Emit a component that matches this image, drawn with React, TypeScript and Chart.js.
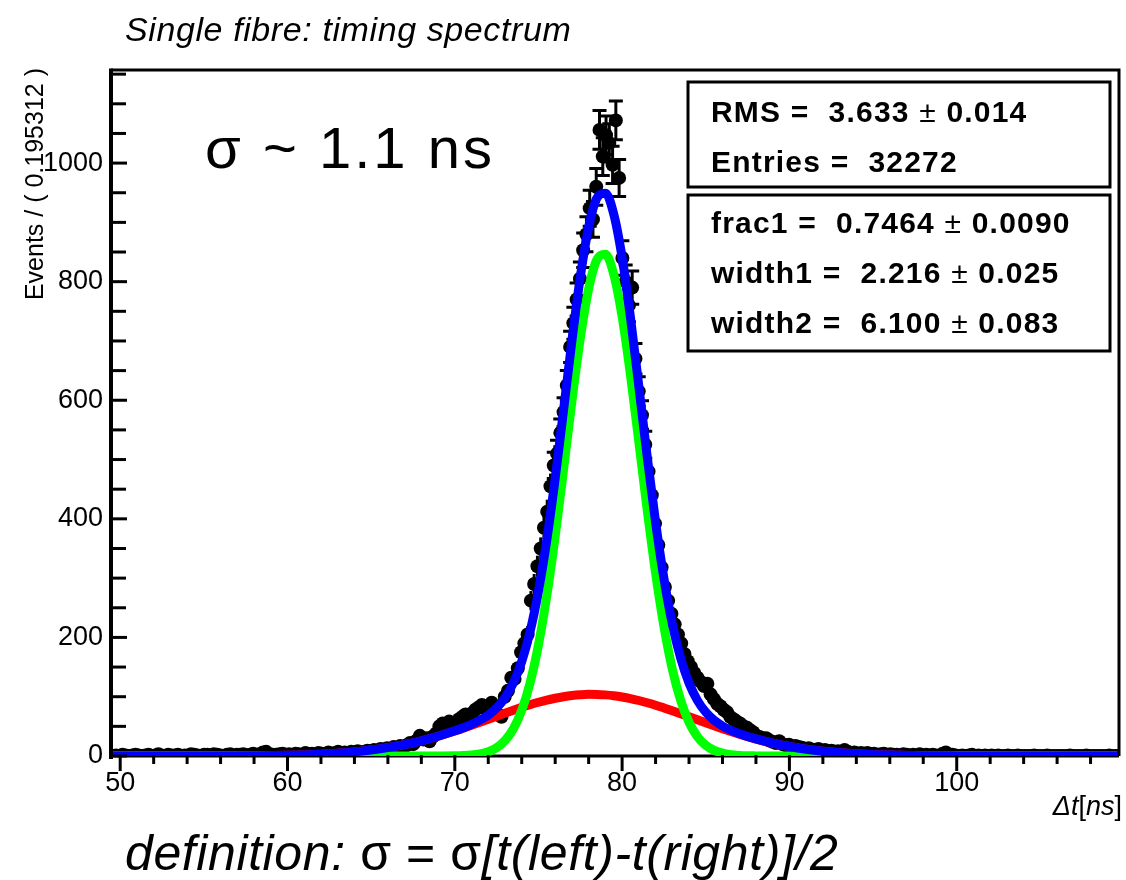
import React, { useEffect, useRef } from "react";
import { Chart, registerables } from "chart.js";

Chart.register(...registerables);

// ---------- data ----------
const BIN_START = 49.45;
const BIN_WIDTH = 0.1953125;
const X_MIN = 49.45;
const X_MAX = 109.7;
const Y_MIN = 0;
const Y_MAX = 1157;

const xMajorTicks = [50, 60, 70, 80, 90, 100];
const xMinorStep = 2;
const yMajorTicks = [0, 200, 400, 600, 800, 1000];
const yMinorStep = 50;

// histogram counts per bin (bin width 0.195312 ns, starting at BIN_START)
const counts = [
  0, 1, 0, 2, 1, 0, 1, 2, 1, 0,
  1, 2, 0, 1, 3, 1, 0, 2, 1, 1,
  2, 0, 1, 1, 3, 2, 1, 0, 2, 2,
  1, 3, 2, 1, 0, 2, 3, 1, 2, 2,
  3, 1, 2, 4, 2, 3, 6, 7, 3, 2,
  2, 3, 4, 2, 3, 1, 4, 3, 2, 5,
  3, 4, 2, 5, 4, 3, 6, 4, 5, 7,
  5, 6, 4, 7, 6, 8, 5, 7, 9, 8,
  10, 9, 12, 11, 13, 12, 15, 14, 17, 16,
  18, 22, 20, 26, 34, 28, 30, 25, 33, 38,
  50, 55, 44, 58, 52, 48, 62, 66, 70, 58,
  72, 78, 82, 86, 80, 76, 90, 84, 70, 66,
  100, 110, 132, 130, 148, 175, 190, 205, 262, 290,
  320, 350, 385, 412, 455, 490, 510, 545, 580, 625,
  690, 730, 770, 805, 853, 880, 924, 905, 960, 1056,
  1011, 1047, 1034, 997, 1072, 975, 840, 800, 760, 790,
  670, 615, 575, 525, 480, 440, 392, 356, 318, 285,
  262, 240, 222, 205, 190, 172, 160, 150, 140, 132,
  125, 118, 122, 104, 96, 88, 84, 78, 74, 66,
  62, 58, 55, 50, 48, 44, 40, 34, 32, 30,
  30, 26, 24, 22, 25, 20, 18, 19, 16, 17,
  15, 14, 12, 13, 11, 10, 12, 9, 10, 8,
  9, 7, 8, 6, 10, 7, 5, 6, 4, 5,
  4, 5, 3, 4, 2, 3, 4, 2, 3, 2,
  2, 1, 3, 2, 1, 2, 1, 3, 1, 2,
  1, 2, 1, 0, 4, 6, 1, 2, 1, 0,
  1, 0, 1, 2, 0, 1, 0, 1, 0, 1,
  0, 1, 0, 0, 1, 0, 0, 1, 0, 0,
  0, 0, 1, 0, 0, 0, 1, 0, 0, 0,
  0, 0, 0, 1, 0, 0, 0, 0, 1, 0,
  0, 0, 0, 0, 0, 1, 0, 0, 0,
];

// fit curves sampled at curveX
const curveX = [
  49, 50, 52, 54, 56, 58, 60, 62, 63, 64, 65, 66, 67, 68, 69,
  70, 70.5, 71, 71.5, 72, 72.5, 73, 73.5, 74, 74.5, 75, 75.5, 76, 76.5, 77, 77.5,
  78, 78.5, 79, 79.5, 80, 80.5, 81, 81.5, 82, 82.5, 83, 83.5, 84, 84.5, 85, 85.5,
  86, 86.5, 87, 87.5, 88,
  89, 90, 91, 92, 93, 94, 95, 96, 98, 100, 102, 104, 106, 108, 111,
];
const totalFit = [
  0, 0, 0.01, 0.04, 0.14, 0.43, 1.2, 3.1, 4.7, 6.9, 10.0, 14.1, 19.3, 25.7, 33.4,
  42.4, 47.6, 53.4, 60.4, 69.1, 81.2, 98.3, 123.3, 159.4, 210.0, 278.1, 364.7, 468.2, 583.3, 700.4, 807.6,
  891.9, 941.4, 949.2, 914.0, 840.8, 739.6, 623.3, 504.6, 394.5, 299.5, 223.1, 165.1, 123.1, 93.8, 73.9, 60.2,
  50.6, 43.4, 37.7, 32.9, 28.8,
  21.7, 16.0, 11.5, 8.1, 5.5, 3.6, 2.3, 1.5, 0.5, 0.2, 0.05, 0, 0, 0, 0,
];
const narrowFit = [
  0, 0, 0, 0, 0, 0, 0, 0, 0, 0, 0, 0, 0, 0, 0.04,
  0.3, 0.7, 1.6, 3.5, 7.1, 14.0, 26.0, 46.0, 77.3, 123.5, 187.5, 270.4, 370.8, 483.3, 598.4, 704.3,
  787.9, 837.5, 846.1, 812.3, 741.2, 642.7, 529.7, 414.8, 308.8, 218.4, 146.8, 93.8, 56.9, 32.8, 18.0, 9.4,
  4.7, 2.2, 1.0, 0.4, 0.2,
  0, 0, 0, 0, 0, 0, 0, 0, 0, 0, 0, 0, 0, 0, 0,
];
const wideFit = [
  0, 0, 0.01, 0.04, 0.14, 0.43, 1.2, 3.1, 4.7, 6.9, 10.0, 14.1, 19.3, 25.7, 33.4,
  42.1, 46.9, 51.8, 56.9, 62.0, 67.2, 72.3, 77.3, 82.1, 86.5, 90.6, 94.3, 97.4, 100.0, 102.0, 103.3,
  104.0, 103.9, 103.1, 101.7, 99.6, 96.9, 93.6, 89.8, 85.7, 81.1, 76.3, 71.3, 66.2, 61.0, 55.9, 50.8,
  45.9, 41.2, 36.7, 32.5, 28.6,
  21.7, 16.0, 11.5, 8.1, 5.5, 3.6, 2.3, 1.5, 0.5, 0.2, 0.05, 0, 0, 0, 0,
];

const titleText = "Single fibre: timing spectrum";
const yTitle = "Events / ( 0.195312 )";
const statsBox1 = [
  ["RMS =  3.633 ", "±", " 0.014"],
  ["Entries =  32272", "", ""],
];
const statsBox2 = [
  ["frac1 =  0.7464 ", "±", " 0.0090"],
  ["width1 =  2.216 ", "±", " 0.025"],
  ["width2 =  6.100 ", "±", " 0.083"],
];
const sigmaText = "σ ~ 1.1 ns";

// ---------- drawing helpers ----------
const FONT = '"Liberation Sans", Arial, Helvetica, sans-serif';

type Seg = { t: string; f: string };
function drawSegs(ctx: CanvasRenderingContext2D, x: number, y: number, segs: Seg[], spacing = "0px") {
  (ctx as any).letterSpacing = spacing;
  let cx = x;
  for (const s of segs) {
    if (!s.t) continue;
    ctx.font = s.f;
    ctx.fillText(s.t, cx, y);
    cx += ctx.measureText(s.t).width;
  }
  (ctx as any).letterSpacing = "0px";
  return cx;
}
function segsWidth(ctx: CanvasRenderingContext2D, segs: Seg[], spacing = "0px") {
  (ctx as any).letterSpacing = spacing;
  let w = 0;
  for (const s of segs) {
    ctx.font = s.f;
    w += ctx.measureText(s.t).width;
  }
  (ctx as any).letterSpacing = "0px";
  return w;
}

const rootPlugin = {
  id: "rootFrame",
  beforeDatasetsDraw(chart: any) {
    const { ctx, chartArea: a, scales } = chart;
    const y0 = scales.y.getPixelForValue(0);
    ctx.save();
    ctx.strokeStyle = "#000";
    ctx.lineWidth = 3;
    ctx.beginPath();
    ctx.moveTo(a.left, y0);
    ctx.lineTo(a.right, y0);
    ctx.stroke();
    ctx.restore();
  },
  beforeDatasetDraw(chart: any, args: any) {
    if (args.index !== 3) return;
    const { ctx, scales } = chart;
    const pts = chart.data.datasets[3].data as { x: number; y: number }[];
    ctx.save();
    ctx.strokeStyle = "#000";
    ctx.lineWidth = 3;
    for (const p of pts) {
      if (p.y <= 0) continue;
      const e = Math.sqrt(p.y);
      const px = scales.x.getPixelForValue(p.x);
      const yTop = scales.y.getPixelForValue(p.y + e);
      const yBot = scales.y.getPixelForValue(Math.max(0, p.y - e));
      const yc = scales.y.getPixelForValue(p.y);
      if (yc - yTop <= 8) continue;
      ctx.beginPath();
      ctx.moveTo(px, yTop);
      ctx.lineTo(px, yBot);
      ctx.stroke();
      if (yc - yTop > 13) {
        ctx.beginPath();
        ctx.moveTo(px - 7, yTop);
        ctx.lineTo(px + 7, yTop);
        ctx.moveTo(px - 7, yBot);
        ctx.lineTo(px + 7, yBot);
        ctx.stroke();
      }
    }
    ctx.restore();
  },
  afterDatasetsDraw(chart: any) {
    const { ctx, chartArea: a, scales } = chart;
    const xs = scales.x;
    const ys = scales.y;
    const y0 = ys.getPixelForValue(0);
    ctx.save();
    ctx.strokeStyle = "#000";
    ctx.lineCap = "butt";
    // frame: left, top, right
    ctx.lineWidth = 4;
    ctx.beginPath();
    ctx.moveTo(a.left, a.top - 1.5);
    ctx.lineTo(a.left, y0 + 3);
    ctx.stroke();
    ctx.lineWidth = 3;
    ctx.beginPath();
    ctx.moveTo(a.left, a.top);
    ctx.lineTo(a.right, a.top);
    ctx.lineTo(a.right, y0);
    ctx.stroke();
    // y ticks (inward)
    ctx.lineWidth = 3;
    for (let v = Y_MIN; v <= Y_MAX; v += yMinorStep) {
      const py = ys.getPixelForValue(v);
      ctx.beginPath();
      ctx.moveTo(a.left, py);
      ctx.lineTo(a.left + (yMajorTicks.includes(v) ? 16 : 15), py);
      ctx.stroke();
    }
    // x ticks (downward)
    for (let v = 50; v <= X_MAX; v += xMinorStep) {
      const px = xs.getPixelForValue(v);
      const major = xMajorTicks.includes(v);
      ctx.beginPath();
      ctx.moveTo(px, y0 - 1);
      ctx.lineTo(px, y0 + (major ? 15 : 8));
      ctx.stroke();
    }
    ctx.restore();
  },
  afterDraw(chart: any) {
    const { ctx } = chart;
    ctx.save();
    ctx.fillStyle = "#000";
    ctx.textBaseline = "alphabetic";
    ctx.textAlign = "left";

    // title
    drawSegs(ctx, 125, 41, [{ t: titleText, f: `italic 34px ${FONT}` }], "0.6px");

    // big sigma annotation
    drawSegs(ctx, 205, 168, [{ t: sigmaText, f: `58px ${FONT}` }], "3px");

    // y axis title
    ctx.save();
    ctx.translate(43, 68);
    ctx.rotate(-Math.PI / 2);
    ctx.textAlign = "right";
    ctx.font = `25px ${FONT}`;
    ctx.fillText(yTitle, 0, 0);
    ctx.restore();

    // x axis title
    const xt: Seg[] = [
      { t: "Δt", f: `italic 27px ${FONT}` },
      { t: "[", f: `27px ${FONT}` },
      { t: "ns", f: `italic 27px ${FONT}` },
      { t: "]", f: `27px ${FONT}` },
    ];
    const w = segsWidth(ctx, xt);
    drawSegs(ctx, 1122 - w, 815, xt);

    // bottom definition
    drawSegs(
      ctx,
      125,
      870,
      [
        { t: "definition: ", f: `italic 50px ${FONT}` },
        { t: "σ = σ", f: `50px ${FONT}` },
        { t: "[t(left)-t(right)]/2", f: `italic 50px ${FONT}` },
      ],
      "0.6px"
    );

    // stats boxes
    ctx.strokeStyle = "#000";
    ctx.lineWidth = 3;
    ctx.strokeRect(688, 82, 422, 105);
    ctx.strokeRect(688, 195, 422, 156);
    const bold = `bold 30px ${FONT}`;
    const reg = `30px ${FONT}`;
    const rows = [...statsBox1, ...statsBox2];
    const baselines = [122, 172, 233, 283, 333];
    rows.forEach((r, i) => {
      drawSegs(
        ctx,
        711,
        baselines[i],
        [
          { t: r[0], f: bold },
          { t: r[1], f: reg },
          { t: r[2], f: bold },
        ],
        "1.2px"
      );
    });
    ctx.restore();
  },
};

export default function App() {
  const ref = useRef<HTMLCanvasElement>(null);
  useEffect(() => {
    if (!ref.current) return;
    const tickFont = { family: FONT, size: 27 };
    const chart = new Chart(ref.current, {
      type: "scatter",
      data: {
        datasets: [
          {
            type: "line",
            label: "total fit",
            data: curveX.map((x, i) => ({ x, y: totalFit[i] })),
            borderColor: "#0000ff",
            borderWidth: 9,
            pointRadius: 0,
            cubicInterpolationMode: "monotone",
            fill: false,
          },
          {
            type: "line",
            label: "narrow gaussian",
            data: curveX.map((x, i) => ({ x, y: narrowFit[i] })),
            borderColor: "#00ff00",
            borderWidth: 9,
            pointRadius: 0,
            cubicInterpolationMode: "monotone",
            fill: false,
          },
          {
            type: "line",
            label: "wide gaussian",
            data: curveX.map((x, i) => ({ x, y: wideFit[i] })),
            borderColor: "#ff0000",
            borderWidth: 9,
            pointRadius: 0,
            cubicInterpolationMode: "monotone",
            fill: false,
          },
          {
            type: "scatter",
            label: "data",
            data: counts.map((n, i) => ({ x: BIN_START + (i + 0.5) * BIN_WIDTH, y: n })),
            pointRadius: 7,
            pointHoverRadius: 7,
            backgroundColor: "#000",
            borderWidth: 0,
          },
        ] as any,
      },
      options: {
        animation: false,
        responsive: false,
        events: [],
        layout: { padding: { left: 0, right: 5, top: 70, bottom: 0 } },
        plugins: {
          legend: { display: false },
          tooltip: { enabled: false },
          title: { display: false },
        },
        scales: {
          x: {
            type: "linear",
            min: X_MIN,
            max: X_MAX,
            grid: { display: false, drawTicks: false },
            border: { display: false },
            ticks: {
              stepSize: 10,
              includeBounds: false,
              autoSkip: false,
              maxRotation: 0,
              color: "#000",
              font: tickFont,
              padding: 11,
              callback: (v: any) => String(v),
            },
            afterFit: (s: any) => {
              s.height = 124;
            },
          },
          y: {
            type: "linear",
            min: Y_MIN,
            max: Y_MAX,
            grid: { display: false, drawTicks: false },
            border: { display: false },
            ticks: {
              stepSize: 200,
              includeBounds: false,
              autoSkip: false,
              color: "#000",
              font: tickFont,
              padding: 8,
              callback: (v: any) => String(v),
            },
            afterFit: (s: any) => {
              s.width = 111;
            },
          },
        },
      } as any,
      plugins: [rootPlugin as any],
    });
    return () => chart.destroy();
  }, []);
  return (
    <div style={{ position: "fixed", left: 0, top: 0, width: 1126, height: 880, background: "#fff" }}>
      <canvas ref={ref} width={1126} height={880} style={{ display: "block", width: 1126, height: 880 }} />
    </div>
  );
}
